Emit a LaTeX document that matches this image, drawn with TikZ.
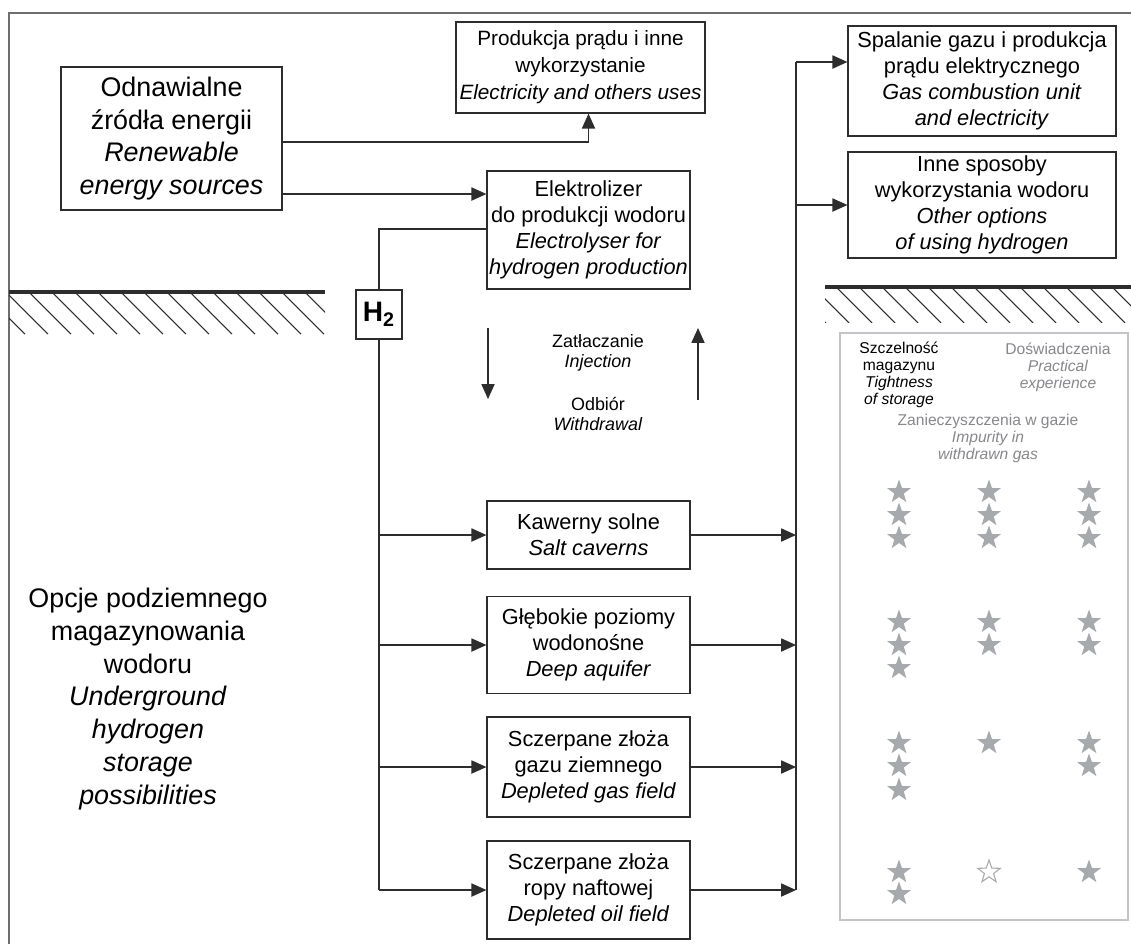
\documentclass[tikz,border=0pt]{standalone}
\usepackage{fontspec}
\setmainfont{Liberation Sans}
\usepackage{tikz}
\usetikzlibrary{arrows.meta, positioning, shapes.geometric, calc}

\definecolor{lineGray}{RGB}{45,45,45}
\definecolor{frameGray}{RGB}{110,110,110}
\definecolor{starGray}{RGB}{168,169,173}
\definecolor{noteGray}{RGB}{135,135,140}
\definecolor{panelGray}{RGB}{195,195,200}

\begin{document}
\begin{tikzpicture}[x=0.02cm, y=-0.02cm,
    box/.style={draw=lineGray, line width=0.7pt, align=center, inner sep=0pt},
    bigtext/.style={font=\fontsize{15.3}{18.7}\selectfont},
    midtext/.style={font=\fontsize{12.4}{14.8}\selectfont},
    toptext/.style={font=\fontsize{11.8}{15.3}\selectfont},
    injtext/.style={font=\fontsize{10.2}{11.3}\selectfont},
    smalltext/.style={font=\fontsize{8.9}{9.7}\selectfont},
    flow/.style={draw=lineGray, line width=0.7pt, -{Triangle[length=8.5pt, width=7.5pt]}},
    link/.style={draw=lineGray, line width=0.7pt},
    ground/.style={draw=lineGray, line width=2pt},
    hatch/.style={draw=lineGray, line width=0.6pt},
    fullstar/.style={star, star points=5, star point ratio=2.5, minimum size=0.5cm, inner sep=0pt, fill=starGray},
    openstar/.style={star, star points=5, star point ratio=2.5, minimum size=0.48cm, inner sep=0pt, draw=starGray, line width=0.6pt, fill=white}]

  \useasboundingbox (0,0) rectangle (1131,944);
  % frame
  \draw[frameGray, line width=0.8pt] (9,944) -- (9,13) -- (1131,13);

  % boxes above ground
  \node[box, toptext, minimum width=4.98cm, minimum height=1.82cm] (prod) at (580.5,67.5)
    {Produkcja prądu i inne\\wykorzystanie\\\textit{Electricity and others uses}};
  \node[box, bigtext, minimum width=4.42cm, minimum height=2.86cm] (renew) at (171.5,138.5)
    {Odnawialne\\źródła energii\\\textit{Renewable}\\\textit{energy sources}};
  \node[box, midtext, minimum width=4.06cm, minimum height=2.36cm] (elec) at (588.5,230)
    {Elektrolizer\\do produkcji wodoru\\\textit{Electrolyser for}\\\textit{hydrogen production}};
  \node[box, midtext, minimum width=5.36cm, minimum height=2.2cm] (spal) at (982,81)
    {Spalanie gazu i produkcja\\prądu elektrycznego\\\textit{Gas combustion unit}\\\textit{and electricity}};
  \node[box, midtext, minimum width=5.36cm, minimum height=2.12cm] (inne) at (982,205)
    {Inne sposoby\\wykorzystania wodoru\\\textit{Other options}\\\textit{of using hydrogen}};
  \node[box, minimum width=0.92cm, minimum height=0.98cm, font=\fontsize{16}{18}\selectfont\bfseries] (h2) at (379,314.5)
    {H\textsubscript{2}};

  % storage options
  \node[box, midtext, minimum width=4.06cm, minimum height=1.36cm] (salt) at (588.5,535)
    {Kawerny solne\\\textit{Salt caverns}};
  \node[box, midtext, minimum width=4.06cm, minimum height=1.94cm] (aqui) at (588.5,645)
    {Głębokie poziomy\\wodonośne\\\textit{Deep aquifer}};
  \node[box, midtext, minimum width=4.06cm, minimum height=2cm] (gas) at (588.5,767)
    {Sczerpane złoża\\gazu ziemnego\\\textit{Depleted gas field}};
  \node[box, midtext, minimum width=4.06cm, minimum height=1.96cm] (oil) at (588.5,890)
    {Sczerpane złoża\\ropy naftowej\\\textit{Depleted oil field}};

  \node[bigtext, align=center] (opcje) at (148,699)
    {Opcje podziemnego\\magazynowania\\wodoru\\\textit{Underground}\\\textit{hydrogen}\\\textit{storage}\\\textit{possibilities}};

  % injection / withdrawal
  \node[injtext, align=center] (inj) at (598,353) {Zatłaczanie\\\textit{Injection}};
  \node[injtext, align=center] (wdr) at (598,414) {Odbiór\\\textit{Withdrawal}};
  \coordinate (dnA) at (488,328);
  \coordinate (dnB) at (488,399);
  \coordinate (upA) at (698,400);
  \coordinate (upB) at (698,328);
  \draw[flow] (dnA) -- (dnB);
  \draw[flow] (upA) -- (upB);

  % connectors
  \coordinate (rA) at ($(renew.east)+(0,3.5)$);
  \coordinate (rB) at ($(renew.east)+(0,55.5)$);
  \draw[flow] (rA) -| (elec.north |- prod.south);
  \draw[flow] (rB) -- (rB -| elec.west);
  \draw[link] ($(elec.west)+(0,-1)$) -| (h2.north);
  \draw[link] (h2.south) -- (h2.south |- oil.west);
  \foreach \s in {salt, aqui, gas, oil}
    \draw[flow] (h2.south |- \s.west) -- (\s.west);

  \coordinate (bus) at (796,62);
  \draw[link] (bus) -- (bus |- oil.east);
  \draw[flow] (bus) -- (bus -| spal.west);
  \draw[flow] (bus |- inne.west) -- (inne.west);
  \foreach \s in {salt, aqui, gas, oil}
    \draw[flow] (\s.east) -- (bus |- \s.east);

  % ground surface
  \draw[ground] (9,292) -- (325,292);
  \begin{scope}
    \clip (9,293) rectangle (325,334);
    \foreach \x in {-40,-17,...,330}
      \draw[hatch] (\x,292) -- ++(42,42);
  \end{scope}
  \draw[ground] (825,287) -- (1131,287);
  \begin{scope}
    \clip (825,288) rectangle (1131,322);
    \foreach \x in {790,813,...,1131}
      \draw[hatch] (\x,287) -- ++(36,36);
  \end{scope}

  % assessment panel
  \draw[panelGray, line width=0.8pt] (840,333) rectangle (1128,920);
  \node[smalltext, align=center] (tight) at (899,375)
    {Szczelność\\magazynu\\\textit{Tightness}\\\textit{of storage}};
  \node[smalltext, align=center, text=noteGray] (pract) at (1058,367)
    {Doświadczenia\\\textit{Practical}\\\textit{experience}};
  \node[smalltext, align=center, text=noteGray] (impur) at (988,438)
    {Zanieczyszczenia w gazie\\\textit{Impurity in}\\\textit{withdrawn gas}};

  \foreach \x/\y in {899/492, 899/515, 899/538, 989/492, 989/515, 989/538, 1089/492, 1089/515, 1089/538,
                     899/622, 899/645, 899/668, 989/622, 989/645, 1089/622, 1089/645,
                     899/743, 899/766, 899/790, 989/743, 1089/743, 1089/766,
                     899/872, 899/894, 1089/872}
    \node[fullstar] at (\x,\y) {};
  \node[openstar] at (989,872) {};
\end{tikzpicture}
\end{document}
